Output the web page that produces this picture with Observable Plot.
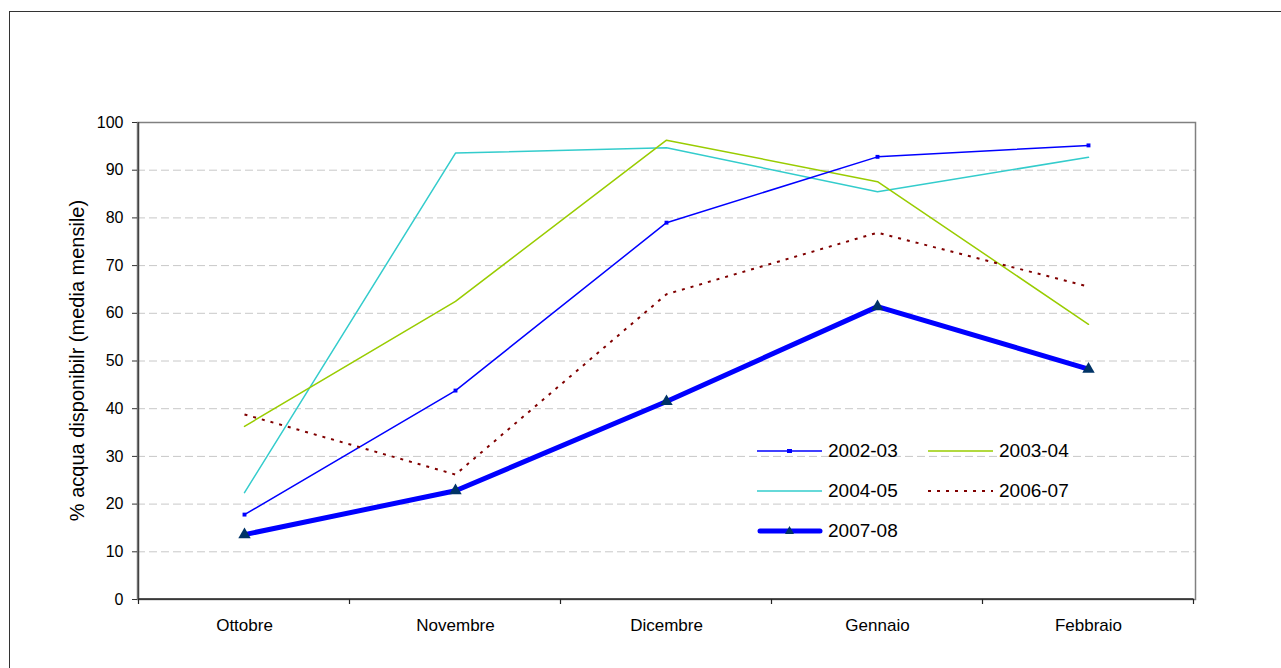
<!DOCTYPE html>
<html>
<head>
<meta charset="utf-8">
<script src="https://cdn.jsdelivr.net/npm/d3@7"></script>
<script src="https://cdn.jsdelivr.net/npm/@observablehq/plot@0.6"></script>
<style>
  html, body { margin: 0; padding: 0; background: #fff; overflow: hidden; }
  #wrap { position: relative; width: 1281px; height: 668px; overflow: hidden; font-family: "Liberation Sans", Arial, sans-serif; }
  #border { position: absolute; left: 9px; top: 11px; width: 1300px; height: 700px; border: 1.5px solid #333; box-sizing: border-box; }
  #chart { position: absolute; left: 0; top: 0; }
  #legend { position: absolute; left: 757px; top: 431px; font-size: 19px; color: #000; }
  .row { display: flex; height: 40px; align-items: center; }
  .item { display: flex; align-items: center; width: 171px; }
  .item svg { margin-right: 5px; }
</style>
</head>
<body>
<div id="wrap">
  <div id="border"></div>
  <div id="chart"></div>
  <div id="legend"></div>
</div>
<script>
const months = ["Ottobre", "Novembre", "Dicembre", "Gennaio", "Febbraio"];
const s2002_03 = [17.8, 43.8, 79.0, 92.8, 95.2];
const s2003_04 = [36.3, 62.5, 96.3, 87.6, 57.7];
const s2004_05 = [22.4, 93.6, 94.7, 85.5, 92.7];
const s2006_07 = [38.8, 26.2, 64.0, 76.9, 65.6];
const s2007_08 = [13.6, 22.8, 41.5, 61.4, 48.3];
const yTicks = [0, 10, 20, 30, 40, 50, 60, 70, 80, 90, 100];
const gridTicks = [10, 20, 30, 40, 50, 60, 70, 80, 90];
const yLabel = "% acqua disponibilr (media mensile)";

const series = [
  {name: "2002-03", values: s2002_03, color: "#0000ff", width: 1.5, dash: null, marker: "square"},
  {name: "2003-04", values: s2003_04, color: "#99cc00", width: 1.5, dash: null, marker: null},
  {name: "2004-05", values: s2004_05, color: "#33cccc", width: 1.5, dash: null, marker: null},
  {name: "2006-07", values: s2006_07, color: "#800000", width: 2, dash: "3,6", marker: null},
  {name: "2007-08", values: s2007_08, color: "#0000ff", width: 5, dash: null, marker: "triangle"}
];
const rows = series.map(s => s.values.map((v, i) => ({month: months[i], value: v})));

const marks = [
  Plot.gridY(gridTicks, {stroke: "#c8c8c8", strokeOpacity: 1, strokeDasharray: "8,4"}),
  Plot.frame({stroke: "#808080", strokeWidth: 1.5}),
  Plot.axisY(yTicks, {tickSize: 5, tickPadding: 9, fontSize: 16, stroke: "#333", label: null}),
  Plot.axisX({tickSize: 0, tickPadding: 19, fontSize: 17, label: null})
];
const order = [2, 1, 0, 3, 4];
for (const k of order) {
  const s = series[k];
  marks.push(Plot.line(rows[k], {x: "month", y: "value", stroke: s.color, strokeWidth: s.width,
    strokeDasharray: s.dash, strokeLinejoin: "miter", strokeLinecap: s.dash ? "butt" : "round"}));
  if (s.marker === "square") {
    marks.push(Plot.dot(rows[k], {x: "month", y: "value", symbol: "square", r: 2.2, fill: s.color, stroke: null}));
  } else if (s.marker === "triangle") {
    marks.push(Plot.dot(rows[k], {x: "month", y: "value", symbol: "triangle", r: 4.6, fill: "#003366", stroke: null}));
  }
}

const chart = Plot.plot({
  width: 1281, height: 668,
  marginLeft: 137, marginRight: 86, marginTop: 122, marginBottom: 69,
  style: {fontFamily: "'Liberation Sans', Arial, sans-serif", fontSize: "16px", color: "#000", background: "transparent", overflow: "visible"},
  x: {type: "point", domain: months, padding: 0.5, label: null},
  y: {domain: [0, 100], label: null},
  marks
});
document.getElementById("chart").appendChild(chart);

// dark left/bottom axis lines and category boundary ticks
const svg = d3.select(chart);
const xs = chart.scale("x"), ys = chart.scale("y");
const step = xs.step ?? ((xs.range[1] - xs.range[0]) / months.length);
const y0 = ys.apply(0), y100 = ys.apply(100);
const left = xs.apply(months[0]) - step / 2;
const right = xs.apply(months[months.length - 1]) + step / 2;
const g = svg.append("g").attr("stroke", "#222").attr("stroke-width", 1.5);
g.append("line").attr("x1", left).attr("x2", left).attr("y1", y100).attr("y2", y0).attr("stroke", "#444");
g.append("line").attr("x1", left).attr("x2", right).attr("y1", y0).attr("y2", y0);
const bounds = months.map(m => xs.apply(m) - step / 2).concat([right]);
for (const b of bounds) g.append("line").attr("x1", b).attr("x2", b).attr("y1", y0).attr("y2", y0 + 5).attr("stroke-width", 1.2);

// y-axis title
svg.append("text")
  .attr("transform", `translate(${left - 62},${(y0 + y100) / 2}) rotate(-90)`)
  .attr("text-anchor", "middle").attr("dy", "0.35em")
  .attr("font-size", 20).attr("fill", "#000")
  .text(yLabel);

// legend
const legend = document.getElementById("legend");
const layout = [[0, 1], [2, 3], [4]];
for (const r of layout) {
  const row = document.createElement("div");
  row.className = "row";
  for (const k of r) {
    const s = series[k];
    const item = document.createElement("div");
    item.className = "item";
    let mk = "";
    if (s.marker === "square") mk = `<rect x="30" y="8" width="5" height="4" fill="${s.color}"/>`;
    if (s.marker === "triangle") mk = `<path d="M32.5,5 L37,13 L28,13 Z" fill="#003366"/>`;
    item.innerHTML = `<svg width="66" height="20"><line x1="${s.width > 3 ? 3 : 0}" x2="${s.width > 3 ? 63 : 65}" y1="10" y2="10" stroke="${s.color}" stroke-width="${s.width}" ${s.dash ? `stroke-dasharray="${s.dash}"` : ""} stroke-linecap="${s.width > 3 ? "round" : "butt"}"/>${mk}</svg><span>${s.name}</span>`;
    row.appendChild(item);
  }
  legend.appendChild(row);
}
</script>
</body>
</html>
